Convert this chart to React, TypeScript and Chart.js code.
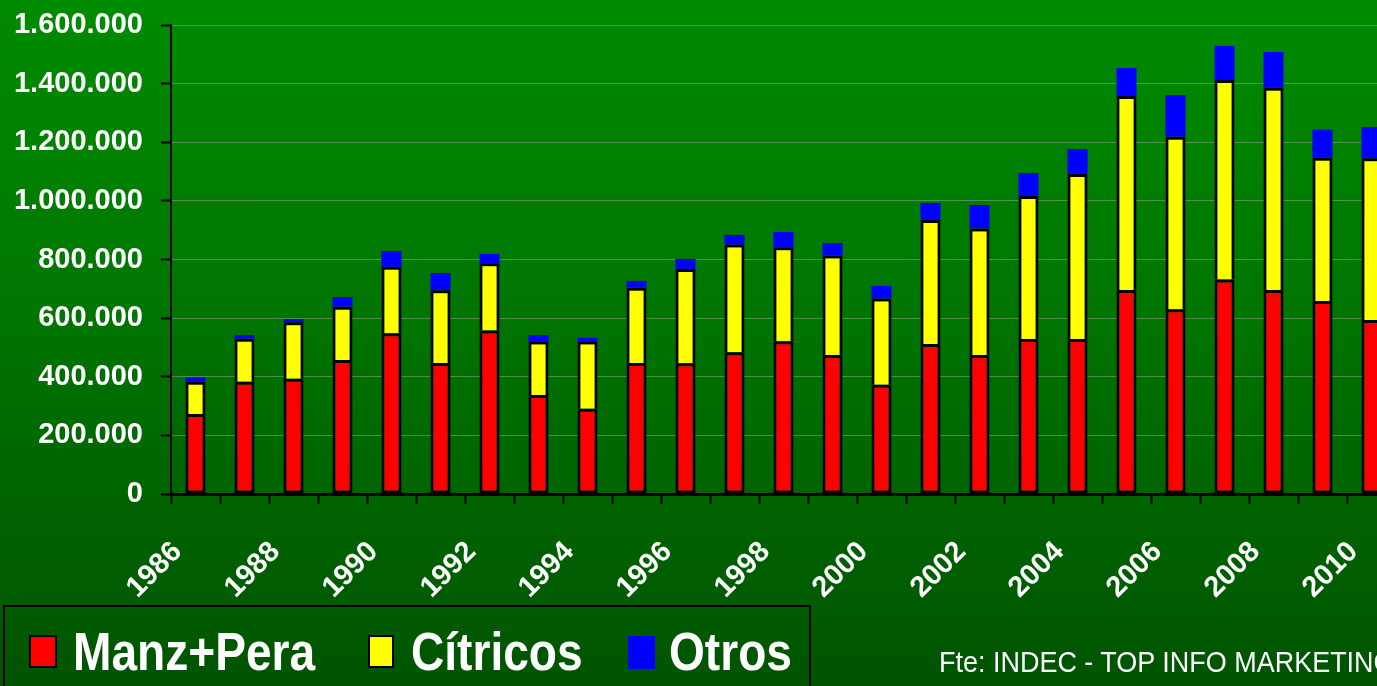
import React, { useEffect, useRef } from "react";
import { Chart, registerables } from "chart.js";

Chart.register(...registerables);

const years: string[] = [
  "1986", "1987", "1988", "1989", "1990", "1991", "1992", "1993", "1994", "1995",
  "1996", "1997", "1998", "1999", "2000", "2001", "2002", "2003", "2004", "2005",
  "2006", "2007", "2008", "2009", "2010",
];

// values in tonnes
const manzPera: number[] = [
  273000, 383000, 393000, 457000, 548000, 447000, 558000, 338000, 291000, 447000,
  446000, 484000, 521000, 474000, 373000, 512000, 474000, 529000, 529000, 696000,
  630000, 732000, 696000, 658000, 594000,
];
const citricos: number[] = [
  110000, 147000, 193000, 182000, 227000, 248000, 229000, 182000, 229000, 257000,
  322000, 367000, 321000, 340000, 294000, 423000, 432000, 488000, 563000, 662000,
  589000, 680000, 690000, 489000, 551000,
];
const otros: number[] = [
  14000, 12000, 11000, 33000, 54000, 59000, 32000, 22000, 13000, 23000,
  34000, 33000, 52000, 42000, 43000, 58000, 80000, 78000, 85000, 95000,
  142000, 117000, 122000, 96000, 107000,
];

const seriesNames: string[] = ["Manz+Pera", "Cítricos", "Otros"];
const seriesColors: string[] = ["#ff0000", "#ffff00", "#0000ff"];
const yTickMax = 1600000;
const yTickStep = 200000;
const sourceText = "Fte: INDEC - TOP INFO MARKETING";

const fmt = (v: number) =>
  String(Math.round(v)).replace(/\B(?=(\d{3})+(?!\d))/g, ".");

const FONT = "'Liberation Sans', Arial, sans-serif";

export default function App() {
  const ref = useRef<HTMLCanvasElement | null>(null);

  useEffect(() => {
    if (!ref.current) return;
    const chart = new Chart(ref.current, {
      type: "bar",
      data: {
        labels: years,
        datasets: [
          {
            label: seriesNames[0],
            data: manzPera,
            backgroundColor: seriesColors[0],
            borderColor: "#000000",
            borderWidth: 3,
            borderSkipped: false,
          },
          {
            label: seriesNames[1],
            data: citricos,
            backgroundColor: seriesColors[1],
            borderColor: "#000000",
            borderWidth: 3,
            borderSkipped: "start",
          },
          {
            label: seriesNames[2],
            data: otros,
            backgroundColor: seriesColors[2],
            borderWidth: 0,
          },
        ],
      },
      options: {
        animation: false,
        responsive: false,
        devicePixelRatio: 1,
        layout: { padding: { top: 25, left: 0, right: 4, bottom: 0 } },
        datasets: {
          bar: { barPercentage: 0.41, categoryPercentage: 1.0 },
        },
        plugins: {
          legend: { display: false },
          tooltip: { enabled: false },
          title: { display: false },
        },
        scales: {
          x: {
            stacked: true,
            offset: true,
            afterFit: (scale: any) => {
              scale.height = 192;
              scale.paddingRight = 0;
            },
            grid: {
              display: true,
              offset: true,
              drawOnChartArea: false,
              drawTicks: true,
              tickLength: 10,
              tickColor: "#000000",
              tickWidth: 2,
            },
            border: { display: true, color: "#000000", width: 3 },
            ticks: {
              autoSkip: false,
              minRotation: 45,
              maxRotation: 45,
              padding: 31,
              labelOffset: -18,
              color: "#ffffff",
              font: { family: FONT, size: 29, weight: "bold" },
              callback: function (_v: any, i: number) {
                return i % 2 === 0 ? years[i] : "";
              },
            },
          },
          y: {
            stacked: true,
            min: 0,
            max: yTickMax,
            afterFit: (scale: any) => {
              scale.width = 171;
              scale.paddingTop = 0;
              scale.paddingBottom = 0;
            },
            grid: {
              color: "rgba(175,175,175,0.45)",
              lineWidth: 1,
              tickLength: 10,
              tickColor: "#000000",
              tickWidth: 2,
            },
            border: { display: true, color: "#000000", width: 2 },
            ticks: {
              stepSize: yTickStep,
              padding: 18,
              color: "#ffffff",
              font: { family: FONT, size: 29, weight: "bold" },
              callback: (v: any) => fmt(Number(v)),
            },
          },
        },
      },
    });
    return () => chart.destroy();
  }, []);

  const legendText: React.CSSProperties = {
    position: "absolute",
    top: 625,
    fontFamily: FONT,
    fontWeight: "bold",
    fontSize: 53,
    lineHeight: "53px",
    color: "#ffffff",
    whiteSpace: "nowrap",
    transform: "scaleX(0.87)",
    transformOrigin: "left top",
  };

  return (
    <div
      style={{
        position: "fixed",
        left: 0,
        top: 0,
        width: 1377,
        height: 686,
        overflow: "hidden",
        background:
          "linear-gradient(to bottom, #008b00 0%, #007800 40%, #006400 72%, #005400 100%)",
      }}
    >
      <canvas
        ref={ref}
        width={1400}
        height={686}
        style={{ position: "absolute", left: 0, top: 0, display: "block" }}
      />
      <div
        style={{
          position: "absolute",
          left: 3,
          top: 605,
          width: 808,
          height: 100,
          border: "2px solid #000000",
          boxSizing: "border-box",
        }}
      />
      <div
        style={{
          position: "absolute",
          left: 29,
          top: 635,
          width: 28,
          height: 33,
          background: seriesColors[0],
          border: "2px solid #000",
          boxSizing: "border-box",
        }}
      />
      <span style={{ ...legendText, left: 73 }}>{seriesNames[0]}</span>
      <div
        style={{
          position: "absolute",
          left: 368,
          top: 635,
          width: 26,
          height: 33,
          background: seriesColors[1],
          border: "2px solid #000",
          boxSizing: "border-box",
        }}
      />
      <span style={{ ...legendText, left: 411 }}>{seriesNames[1]}</span>
      <div
        style={{
          position: "absolute",
          left: 628,
          top: 636,
          width: 27,
          height: 33,
          background: seriesColors[2],
        }}
      />
      <span style={{ ...legendText, left: 669 }}>{seriesNames[2]}</span>
      <span
        style={{
          position: "absolute",
          left: 939,
          top: 648,
          fontFamily: FONT,
          fontSize: 29,
          lineHeight: "29px",
          color: "#ffffff",
          whiteSpace: "nowrap",
          transform: "scaleX(0.93)",
          transformOrigin: "left top",
        }}
      >
        {sourceText}
      </span>
    </div>
  );
}
